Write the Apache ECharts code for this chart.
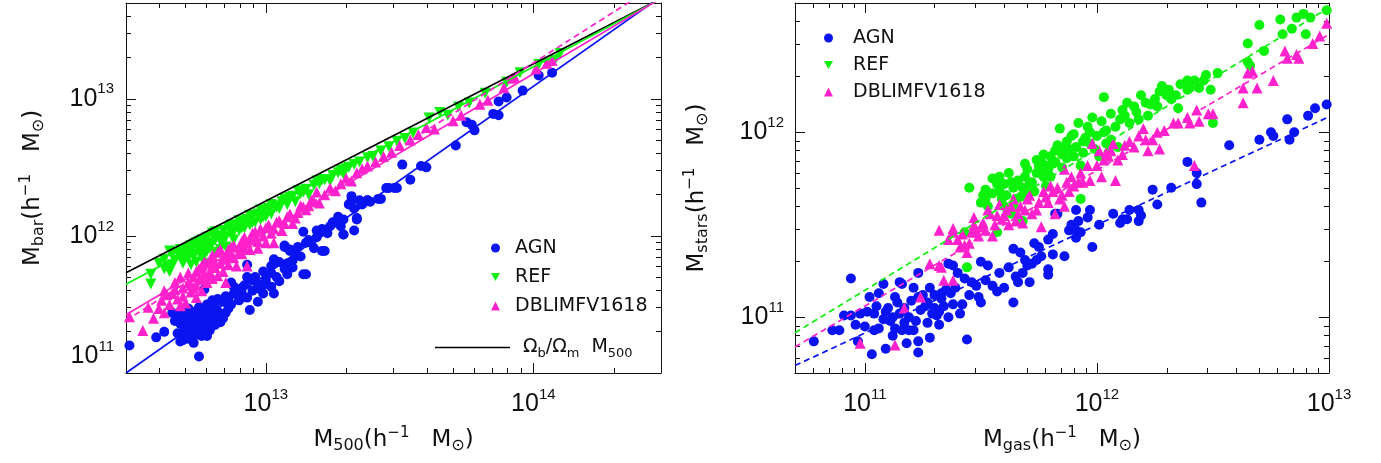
<!DOCTYPE html>
<html>
<head>
<meta charset="utf-8">
<script src="https://cdn.jsdelivr.net/npm/echarts@6/dist/echarts.min.js"></script>
<style>
  html, body { margin: 0; padding: 0; background: #fff; }
  #chart { width: 1381px; height: 463px; }
</style>
</head>
<body>
<div id="chart"></div>
<script>
// All masses are log10(M / h^-1 Msun).

// Left panel: [log M500, log Mbar]
const agnBar = [[12.49,11.20],[12.59,11.26],[12.75,11.12],[12.65,11.44],[12.67,11.43],[12.67,11.29],[12.68,11.23],[12.69,11.24],[12.73,11.22],[12.76,11.27],[12.70,11.36],[12.71,11.39],[12.73,11.42],[12.75,11.46],[12.76,11.40],[12.77,11.44],[12.78,11.37],[12.80,11.41],[12.81,11.35],[12.83,11.37],[12.72,11.33],[12.74,11.30],[12.79,11.31],[12.82,11.45],[12.84,11.40],[12.77,11.61],[12.80,11.53],[12.82,11.54],[12.85,11.56],[12.88,11.63],[12.90,11.53],[12.91,11.62],[12.93,11.79],[12.94,11.68],[12.97,11.65],[12.98,11.61],[12.97,11.52],[12.94,11.46],[13.02,11.63],[13.03,11.58],[13.05,11.67],[13.02,11.73],[13.00,11.68],[13.03,11.83],[13.07,11.92],[13.09,11.89],[13.08,11.80],[13.10,11.82],[13.08,11.72],[13.15,11.72],[13.14,12.03],[13.15,11.95],[13.16,11.97],[13.18,11.91],[13.20,12.02],[13.21,12.05],[13.22,11.89],[13.24,12.07],[13.26,12.10],[13.29,12.12],[13.28,12.07],[13.29,12.01],[13.31,12.23],[13.32,12.26],[13.32,12.29],[13.33,12.20],[13.35,12.26],[13.36,12.23],[13.38,12.26],[13.39,12.25],[13.43,12.27],[13.34,12.12],[13.33,12.04],[13.46,12.35],[13.49,12.35],[13.51,12.52],[13.54,12.41],[13.58,12.51],[13.60,12.50],[13.71,12.66],[13.75,12.83],[13.77,12.81],[13.78,12.77],[13.85,12.89],[13.87,12.88],[13.87,12.98],[13.90,13.01],[13.96,13.06],[14.02,13.17],[14.07,13.19],[12.70,11.33],[12.71,11.47],[12.72,11.38],[12.74,11.34],[12.75,11.48],[12.76,11.42],[12.77,11.36],[12.78,11.50],[12.79,11.44],[12.80,11.37],[12.81,11.48],[12.82,11.41],[12.73,11.27],[12.68,11.36],[12.69,11.41],[12.84,11.52],[12.86,11.47],[12.88,11.58],[12.90,11.55],[12.92,11.64],[12.95,11.60],[12.96,11.70],[12.99,11.74],[13.00,11.65],[13.02,11.78],[13.05,11.81],[13.07,11.76],[13.11,11.88],[13.13,11.85],[13.17,11.95],[13.19,11.99],[13.23,12.02],[13.25,12.10],[13.27,12.14],[13.07,11.93],[13.09,11.90],[13.14,11.72],[13.21,11.89],[13.19,12.04],[13.22,12.04],[13.25,12.09],[13.29,12.01],[13.34,12.13],[13.45,12.35],[13.48,12.35],[13.38,12.26],[13.42,12.27],[12.69,11.30],[12.70,11.44],[12.71,11.29],[12.72,11.45],[12.73,11.36],[12.74,11.40],[12.75,11.33],[12.76,11.35],[12.77,11.31],[12.78,11.42],[12.79,11.38],[12.80,11.46],[12.81,11.42],[12.83,11.43],[12.85,11.44],[12.86,11.53],[12.87,11.50],[12.89,11.60],[12.91,11.58],[12.93,11.55],[12.71,11.25],[12.66,11.38],[12.78,11.27],[12.62,11.30],[12.87,11.66],[12.93,11.70],[12.99,11.58],[13.04,11.70],[13.10,11.77],[13.12,11.92]];
const refBar = [[12.57,11.65],[12.57,11.72],[12.60,11.80],[12.62,11.76],[12.64,11.74],[12.64,11.89],[12.66,11.82],[12.67,11.88],[12.68,11.86],[12.69,11.80],[12.70,11.90],[12.71,11.84],[12.72,11.93],[12.72,11.79],[12.73,11.87],[12.74,11.81],[12.74,11.95],[12.75,11.90],[12.76,11.97],[12.76,11.84],[12.77,11.86],[12.77,11.93],[12.78,11.99],[12.79,11.91],[12.79,11.80],[12.80,12.02],[12.80,11.95],[12.81,11.88],[12.82,12.00],[12.83,11.96],[12.83,11.90],[12.84,12.04],[12.85,11.99],[12.85,11.92],[12.86,12.06],[12.87,12.02],[12.88,11.97],[12.89,12.08],[12.90,12.04],[12.91,12.10],[12.92,12.06],[12.93,12.12],[12.94,12.08],[12.95,12.14],[12.96,12.10],[12.97,12.16],[12.98,12.12],[12.99,12.18],[13.00,12.14],[13.01,12.20],[13.02,12.16],[13.03,12.22],[13.05,12.20],[13.06,12.25],[13.08,12.23],[13.10,12.29],[13.11,12.25],[13.13,12.31],[13.15,12.34],[13.16,12.30],[13.18,12.37],[13.20,12.38],[13.22,12.41],[13.24,12.40],[13.25,12.44],[13.27,12.46],[13.29,12.45],[13.31,12.50],[13.33,12.52],[13.35,12.54],[13.38,12.57],[13.40,12.58],[13.43,12.62],[13.46,12.65],[13.49,12.69],[13.52,12.71],[13.55,12.75],[13.61,12.86],[13.65,12.90],[13.68,12.88],[13.72,12.94],[13.76,12.97],[13.82,13.04],[13.90,13.12],[13.95,13.19],[14.02,13.25],[14.05,13.26],[14.08,13.28],[14.10,13.33],[12.62,11.83],[12.63,11.78],[12.65,11.86],[12.65,11.79],[12.68,11.90],[12.69,11.84],[12.70,11.86],[12.71,11.91],[12.73,11.94],[12.73,11.85],[12.75,11.96],[12.76,11.91],[12.78,11.94],[12.78,11.89],[12.81,12.03],[12.81,11.97],[12.84,11.98],[12.87,12.08],[12.88,12.03],[12.90,12.11],[12.91,12.06],[12.94,12.15],[12.95,12.10],[12.98,12.19],[12.99,12.14],[13.02,12.23],[13.04,12.21],[13.07,12.27],[13.09,12.28],[13.12,12.33],[13.14,12.32],[13.19,12.40],[13.21,12.41],[13.28,12.48],[13.30,12.49]];
const dblBar = [[12.49,11.41],[12.54,11.31],[12.56,11.48],[12.58,11.40],[12.60,11.47],[12.62,11.44],[12.63,11.57],[12.64,11.50],[12.66,11.61],[12.67,11.54],[12.68,11.49],[12.69,11.62],[12.70,11.51],[12.71,11.66],[12.72,11.59],[12.73,11.70],[12.74,11.64],[12.74,11.55],[12.75,11.76],[12.75,11.68],[12.76,11.60],[12.77,11.72],[12.78,11.66],[12.78,11.80],[12.79,11.74],[12.80,11.69],[12.80,11.83],[12.81,11.77],[12.82,11.71],[12.83,11.90],[12.83,11.80],[12.84,11.74],[12.85,11.85],[12.85,11.66],[12.86,11.79],[12.87,11.92],[12.88,11.84],[12.89,11.78],[12.90,11.92],[12.91,11.87],[12.92,11.99],[12.93,11.95],[12.93,11.78],[12.94,11.90],[12.95,12.02],[12.96,11.97],[12.97,11.91],[12.98,12.05],[12.99,12.00],[13.00,11.95],[13.01,12.08],[13.03,11.95],[13.03,12.05],[13.05,12.11],[13.06,12.04],[13.08,12.14],[13.10,12.09],[13.12,12.17],[13.13,12.22],[13.15,12.19],[13.17,12.26],[13.19,12.32],[13.20,12.24],[13.22,12.30],[13.24,12.35],[13.26,12.33],[13.28,12.38],[13.30,12.42],[13.32,12.40],[13.34,12.46],[13.36,12.49],[13.38,12.51],[13.41,12.54],[13.44,12.58],[13.47,12.61],[13.50,12.66],[13.54,12.70],[13.57,12.74],[13.60,12.79],[13.63,12.78],[13.70,12.84],[13.73,12.88],[13.80,12.96],[13.83,12.99],[13.89,13.08],[13.92,13.15],[13.93,13.16],[14.01,13.22],[14.05,13.26],[14.07,13.28],[12.61,11.53],[12.62,11.60],[12.65,11.58],[12.66,11.66],[12.68,11.70],[12.69,11.56],[12.71,11.73],[12.72,11.64],[12.73,11.62],[12.74,11.74],[12.76,11.78],[12.76,11.69],[12.77,11.81],[12.79,11.70],[12.80,11.86],[12.81,11.80],[12.82,11.88],[12.84,11.83],[12.86,11.90],[12.87,11.86],[12.88,11.93],[12.90,11.88],[12.91,11.96],[12.92,11.91],[12.94,11.98],[12.96,12.03],[12.97,11.96],[13.00,12.06],[13.02,12.02],[13.04,12.10],[13.07,12.09],[13.09,12.16],[13.11,12.13],[13.14,12.21],[13.16,12.22],[13.18,12.25]];

// Left panel fits: end points at the edges of the M500 range
const baryonFraction = [[12.477,11.732],[14.477,13.732]];
const agnBarFit = [[12.477,11.000],[14.477,13.746]];
const refBarFit = [[12.477,11.648],[14.477,13.730]];
const dblBarFit = [[12.477,11.425],[14.477,13.733]];
const dblBarFitAlt = [[12.477,11.383],[14.477,13.851]];

// Right panel: [log Mgas, log Mstars]
const agnStars = [[10.78,10.87],[10.86,10.93],[10.91,11.01],[10.94,11.01],[10.89,10.93],[10.94,11.21],[10.96,10.96],[10.98,11.02],[10.97,10.87],[11.03,10.80],[11.01,11.03],[11.04,11.02],[11.02,11.11],[11.06,11.13],[11.04,10.93],[11.06,10.94],[11.08,11.18],[11.09,11.03],[11.08,10.99],[11.09,10.83],[11.13,11.11],[11.12,10.90],[11.15,11.19],[11.16,11.18],[11.11,10.98],[11.13,10.94],[11.15,11.02],[11.16,10.93],[11.17,10.97],[11.18,10.86],[11.19,10.93],[11.21,11.16],[11.21,10.93],[11.23,11.24],[11.23,11.11],[11.23,10.87],[11.23,10.81],[11.24,11.04],[11.26,11.06],[11.27,11.08],[11.28,10.89],[11.28,11.16],[11.30,11.12],[11.31,11.01],[11.32,10.96],[11.29,11.02],[11.32,11.03],[11.34,11.06],[11.33,11.13],[11.35,11.15],[11.37,11.13],[11.38,11.07],[11.36,11.29],[11.38,11.28],[11.40,11.24],[11.43,11.21],[11.41,11.02],[11.42,11.07],[11.44,10.88],[11.46,11.19],[11.48,11.17],[11.49,11.11],[11.50,11.08],[11.50,11.30],[11.53,11.28],[11.55,11.17],[11.57,11.14],[11.60,11.16],[11.64,11.08],[11.65,11.22],[11.66,11.19],[11.71,11.19],[11.64,11.37],[11.67,11.35],[11.69,11.31],[11.70,11.28],[11.72,11.29],[11.74,11.31],[11.76,11.33],[11.73,11.40],[11.75,11.38],[11.79,11.42],[11.81,11.34],[11.81,11.45],[11.79,11.26],[11.79,11.23],[11.82,11.56],[11.83,11.56],[11.86,11.33],[11.88,11.47],[11.89,11.50],[11.91,11.47],[11.92,11.52],[11.91,11.43],[11.93,11.46],[11.91,11.58],[11.97,11.58],[11.96,11.54],[11.98,11.38],[12.01,11.50],[12.07,11.56],[12.10,11.51],[12.11,11.53],[12.13,11.53],[12.14,11.58],[12.18,11.58],[12.18,11.52],[12.19,11.55],[12.24,11.69],[12.26,11.61],[12.32,11.70],[12.39,11.84],[12.43,11.78],[12.43,11.72],[12.45,11.62],[12.57,11.93],[12.70,11.96],[12.75,12.00],[12.76,11.98],[12.82,12.07],[12.83,11.96],[12.85,12.00],[12.91,12.09],[12.94,12.13],[12.99,12.15],[11.00,10.95],[11.05,11.06],[11.10,11.05],[11.12,11.00],[11.14,11.08],[11.17,11.05],[11.19,11.00],[11.20,11.09],[11.22,10.98],[11.25,11.12],[11.27,10.97],[11.30,11.05],[11.33,11.10],[11.36,11.00],[11.39,11.16],[11.45,11.12],[11.52,11.20],[11.58,11.24],[11.62,11.27],[11.68,11.24]];
const refStars = [[11.43,11.46],[11.44,11.27],[11.45,11.70],[11.52,11.69],[11.52,11.64],[11.50,11.62],[11.51,11.66],[11.55,11.67],[11.57,11.72],[11.58,11.76],[11.59,11.64],[11.60,11.60],[11.57,11.46],[11.63,11.73],[11.63,11.56],[11.64,11.60],[11.65,11.64],[11.68,11.70],[11.68,11.52],[11.69,11.76],[11.69,11.83],[11.70,11.67],[11.72,11.73],[11.74,11.78],[11.75,11.82],[11.76,11.84],[11.77,11.76],[11.78,11.71],[11.79,11.80],[11.80,11.87],[11.81,11.83],[11.82,11.90],[11.84,12.02],[11.85,11.81],[11.86,11.92],[11.87,11.86],[11.89,11.98],[11.90,11.87],[11.91,11.92],[11.93,11.82],[11.93,11.64],[11.94,11.89],[11.95,11.97],[11.96,12.03],[11.97,11.94],[11.99,11.91],[12.01,11.87],[12.03,12.00],[12.03,12.19],[12.04,12.01],[12.04,11.94],[12.05,11.89],[12.06,11.96],[12.08,12.03],[12.09,11.92],[12.11,12.12],[12.12,12.09],[12.14,12.05],[12.16,12.14],[12.17,12.11],[12.18,12.07],[12.21,12.16],[12.22,12.09],[12.25,12.18],[12.26,12.14],[12.27,12.22],[12.30,12.20],[12.32,12.18],[12.34,12.20],[12.35,12.13],[12.39,12.23],[12.39,12.28],[12.40,12.24],[12.44,12.24],[12.46,12.28],[12.47,12.31],[12.49,12.23],[12.50,12.05],[12.52,12.32],[12.65,12.48],[12.65,12.38],[12.66,12.36],[12.70,12.58],[12.72,12.44],[12.79,12.61],[12.80,12.53],[12.84,12.56],[12.86,12.62],[12.89,12.64],[12.90,12.53],[12.92,12.62],[12.99,12.66],[11.53,11.60],[11.55,11.75],[11.58,11.68],[11.60,11.72],[11.61,11.66],[11.62,11.78],[11.64,11.70],[11.66,11.74],[11.67,11.65],[11.70,11.80],[11.71,11.72],[11.73,11.68],[11.74,11.85],[11.76,11.78],[11.77,11.88],[11.78,11.82],[11.80,11.76],[11.82,11.84],[11.83,11.93],[11.85,11.88],[11.87,11.95],[11.88,11.91],[11.90,11.99],[11.92,12.05],[11.94,11.95],[11.97,12.00],[11.98,12.08],[12.00,11.98],[12.02,12.06],[12.06,12.10],[12.10,12.07],[12.13,12.16],[12.19,12.20],[12.23,12.15],[12.28,12.25],[12.31,12.23],[12.36,12.26],[12.42,12.28]];
const dblStars = [[10.98,10.86],[11.13,10.85],[11.17,11.05],[11.24,11.11],[11.28,11.29],[11.32,11.28],[11.33,11.27],[11.34,11.20],[11.38,11.20],[11.32,11.47],[11.38,11.48],[11.38,11.46],[11.40,11.42],[11.41,11.38],[11.43,11.39],[11.44,11.35],[11.46,11.46],[11.48,11.47],[11.49,11.44],[11.50,11.49],[11.47,11.54],[11.51,11.51],[11.54,11.56],[11.55,11.44],[11.57,11.55],[11.59,11.53],[11.61,11.58],[11.62,11.50],[11.64,11.64],[11.66,11.56],[11.67,11.60],[11.68,11.51],[11.70,11.64],[11.72,11.56],[11.75,11.62],[11.76,11.49],[11.78,11.65],[11.80,11.71],[11.81,11.68],[11.82,11.56],[11.84,11.64],[11.86,11.60],[11.86,11.80],[11.87,11.73],[11.88,11.68],[11.90,11.71],[11.92,11.73],[11.94,11.73],[11.96,11.82],[11.98,11.94],[12.00,11.82],[12.02,11.76],[12.03,11.85],[12.04,11.89],[12.05,11.87],[12.07,11.94],[12.08,11.74],[12.09,11.85],[12.11,11.88],[12.14,11.95],[12.16,11.92],[12.18,11.98],[12.21,11.96],[12.22,11.90],[12.24,11.96],[12.26,12.00],[12.27,11.91],[12.29,12.01],[12.33,12.05],[12.35,12.05],[12.39,12.08],[12.40,12.05],[12.43,12.12],[12.44,12.06],[12.48,12.10],[12.50,12.10],[12.42,11.82],[12.63,12.24],[12.65,12.32],[12.67,12.33],[12.69,12.24],[12.63,12.16],[12.76,12.28],[12.81,12.44],[12.82,12.40],[12.86,12.42],[12.87,12.40],[12.93,12.48],[12.96,12.52],[12.99,12.59],[11.36,11.42],[11.42,11.45],[11.45,11.40],[11.47,11.50],[11.52,11.47],[11.53,11.58],[11.56,11.50],[11.58,11.61],[11.60,11.55],[11.63,11.60],[11.65,11.52],[11.69,11.58],[11.71,11.66],[11.74,11.58],[11.77,11.68],[11.79,11.62],[11.83,11.70],[11.85,11.66],[11.89,11.76],[11.93,11.78],[11.97,11.74],[12.01,11.90],[12.06,11.90],[12.12,11.93],[12.20,12.02]];

// Right panel fits
const agnStarsFit = [[10.699,10.739],[13.0,12.084]];
const refStarsFit = [[10.699,10.916],[13.0,12.674]];
const dblStarsFit = [[10.699,10.840],[13.0,12.529]];

// Axis ranges and ticks (masses in h^-1 Msun)
const leftXRange = [3e12, 3e14];
const leftYRange = [1e11, 5e13];
const rightXRange = [5e10, 1e13];
const rightYRange = [5e10, 5e12];
const leftXLabels = [1e13, 1e14];
const leftYLabels = [1e12, 1e13];
const leftYBottomLabel = [1e11];
const rightXLabels = [1e11, 1e12, 1e13];
const rightYLabels = [1e11, 1e12];
const leftXMinor = [4e12,5e12,6e12,7e12,8e12,9e12,2e13,3e13,4e13,5e13,6e13,7e13,8e13,9e13,2e14];
const leftYMinor = [2e11,3e11,4e11,5e11,6e11,7e11,8e11,9e11,2e12,3e12,4e12,5e12,6e12,7e12,8e12,9e12,2e13,3e13,4e13];
const rightXMinor = [6e10,7e10,8e10,9e10,2e11,3e11,4e11,5e11,6e11,7e11,8e11,9e11,2e12,3e12,4e12,5e12,6e12,7e12,8e12,9e12];
const rightYMinor = [6e10,7e10,8e10,9e10,2e11,3e11,4e11,5e11,6e11,7e11,8e11,9e11,2e12,3e12,4e12];

const BLUE = '#0a14f0';
const GREEN = '#0cf20c';
const PINK = '#ff22cc';
const INK = '#111';
const TICK_FONT = 'Liberation Sans';
const TEXT_FONT = 'DejaVu Sans';
const DOWN_TRIANGLE = 'path://M0,0L10,0L5,9Z';

const lg = a => a.map(v => Math.log10(v));

const tickRich = {
  b: { fontSize: 25, lineHeight: 34, fontFamily: TICK_FONT, color: INK },
  s: { fontSize: 15, lineHeight: 15, verticalAlign: 'top', fontFamily: TICK_FONT, color: INK }
};
const powLabel = v => '{b|10}{s|' + Math.round(v) + '}';

const titleRich = {
  b: { fontSize: 23, lineHeight: 28, fontFamily: TEXT_FONT, color: INK },
  sub: { fontSize: 16, lineHeight: 15, verticalAlign: 'bottom', fontFamily: TEXT_FONT, color: INK },
  sup: { fontSize: 15, lineHeight: 15, verticalAlign: 'top', fontFamily: TEXT_FONT, color: INK }
};
const massTitle = sub => '{b|M}{sub|' + sub + '}{b|(h}{sup|−1}{b|   M}{sub|⊙}{b|)}';

// One frame side: a major-tick axis and a minor-tick axis sharing the same range
function side(grid, range, position, majors, minors, labelCfg) {
  const base = {
    type: 'value', gridIndex: grid, min: range[0], max: range[1], position: position,
    splitLine: { show: false }, axisPointer: { show: false }, silent: true
  };
  const major = Object.assign({}, base, {
    axisLine: { show: true, onZero: false, lineStyle: { color: INK, width: 1 } },
    axisTick: { show: true, inside: true, length: 10, customValues: majors, lineStyle: { color: INK, width: 1 } },
    axisLabel: { show: false }
  }, labelCfg || {});
  const minor = Object.assign({}, base, {
    axisLine: { show: false, onZero: false },
    axisTick: { show: true, inside: true, length: 5, customValues: minors, lineStyle: { color: INK, width: 1 } },
    axisLabel: { show: false }
  });
  return [major, minor];
}

const LX = lg(leftXRange), LY = lg(leftYRange), RX = lg(rightXRange), RY = lg(rightYRange);

const xAxes = [].concat(
  side(0, LX, 'bottom', lg(leftXLabels), lg(leftXMinor), {
    axisLabel: { show: true, customValues: lg(leftXLabels), formatter: powLabel, rich: tickRich, margin: 14, showMinLabel: true, showMaxLabel: true },
    name: massTitle('500'), nameLocation: 'middle', nameGap: 53, nameTextStyle: { rich: titleRich }
  }),
  side(0, LX, 'top', lg(leftXLabels), lg(leftXMinor)),
  side(1, RX, 'bottom', lg(rightXLabels), lg(rightXMinor), {
    axisLabel: { show: true, customValues: lg(rightXLabels), formatter: powLabel, rich: tickRich, margin: 14, showMinLabel: true, showMaxLabel: true },
    name: massTitle('gas'), nameLocation: 'middle', nameGap: 53, nameTextStyle: { rich: titleRich }
  }),
  side(1, RX, 'top', lg(rightXLabels), lg(rightXMinor))
);

const yAxes = [].concat(
  side(0, LY, 'left', lg(leftYLabels), lg(leftYMinor), {
    axisLabel: { show: true, customValues: lg(leftYLabels), formatter: powLabel, rich: tickRich, margin: 12, showMinLabel: true, showMaxLabel: true },
    name: massTitle('bar'), nameLocation: 'middle', nameGap: 79, nameTextStyle: { rich: titleRich }
  }),
  side(0, LY, 'right', lg(leftYLabels), lg(leftYMinor)),
  [{
    type: 'value', gridIndex: 0, min: LY[0], max: LY[1], position: 'left', silent: true,
    splitLine: { show: false }, axisLine: { show: false, onZero: false }, axisTick: { show: false },
    axisLabel: { show: true, customValues: lg(leftYBottomLabel), formatter: powLabel, rich: tickRich, margin: 12, verticalAlign: 'bottom', showMinLabel: true }
  }],
  side(1, RY, 'left', lg(rightYLabels), lg(rightYMinor), {
    axisLabel: { show: true, customValues: lg(rightYLabels), formatter: powLabel, rich: tickRich, margin: 11, showMinLabel: true, showMaxLabel: true },
    name: massTitle('stars'), nameLocation: 'middle', nameGap: 84, nameTextStyle: { rich: titleRich }
  }),
  side(1, RY, 'right', lg(rightYLabels), lg(rightYMinor))
);

function points(name, data, grid, symbol, color, size, rotate) {
  return {
    type: 'scatter', name: name, data: data,
    xAxisIndex: grid === 0 ? 0 : 4, yAxisIndex: grid === 0 ? 0 : 5,
    symbol: symbol, symbolSize: size, symbolRotate: rotate || 0, symbolKeepAspect: true,
    itemStyle: { color: color, opacity: 1 }, silent: true, z: 2
  };
}
function fit(name, data, grid, color, dashed) {
  return {
    type: 'line', name: name, data: data,
    xAxisIndex: grid === 0 ? 0 : 4, yAxisIndex: grid === 0 ? 0 : 5,
    symbol: 'none', clip: true, silent: true, z: 3,
    itemStyle: { color: color },
    lineStyle: { color: color, width: 1.7, type: dashed ? [6, 4] : 'solid' }
  };
}

const OMEGA = 'Ωb/Ωm M500';
const legendText = { fontSize: 19, lineHeight: 20, fontFamily: TEXT_FONT, color: INK };
const legendItems = [
  { name: 'AGN', icon: 'circle' },
  { name: 'REF', icon: DOWN_TRIANGLE },
  { name: 'DBLIMFV1618', icon: 'triangle' }
];

const option = {
  animation: false,
  backgroundColor: '#fff',
  grid: [
    { left: 126, top: 3, width: 535, height: 370, containLabel: false },
    { left: 795, top: 3, width: 534, height: 370, containLabel: false }
  ],
  xAxis: xAxes,
  yAxis: yAxes,
  legend: [
    {
      data: legendItems, orient: 'vertical', left: 486, top: 233,
      itemWidth: 9, itemHeight: 9, itemGap: 9, selectedMode: false, symbolRotate: 0,
      textStyle: Object.assign({ padding: [0, 0, 0, 10] }, legendText)
    },
    {
      data: [OMEGA], left: 430, top: 333, icon: 'rect', itemWidth: 75, itemHeight: 1.6, selectedMode: false,
      formatter: () => '{t|Ω}{s|b}{t|/Ω}{s|m}{t|  M}{s|500}',
      textStyle: {
        padding: [0, 0, 0, 8],
        rich: {
          t: { fontSize: 19, lineHeight: 26, fontFamily: TEXT_FONT, color: INK },
          s: { fontSize: 13, lineHeight: 12, verticalAlign: 'bottom', fontFamily: TEXT_FONT, color: INK }
        }
      }
    },
    {
      data: legendItems, orient: 'vertical', left: 819, top: 23,
      itemWidth: 9, itemHeight: 9, itemGap: 7, selectedMode: false, symbolRotate: 0,
      textStyle: Object.assign({ padding: [0, 0, 0, 15] }, legendText)
    }
  ],
  series: [
    points('AGN', agnBar, 0, 'circle', BLUE, 10),
    points('REF', refBar, 0, 'triangle', GREEN, 11, 180),
    points('DBLIMFV1618', dblBar, 0, 'triangle', PINK, 11),
    fit(OMEGA, baryonFraction, 0, '#000', false),
    fit('AGN fit', agnBarFit, 0, BLUE, false),
    fit('REF fit', refBarFit, 0, GREEN, false),
    fit('DBLIMFV1618 fit', dblBarFit, 0, PINK, false),
    fit('DBLIMFV1618 alt fit', dblBarFitAlt, 0, PINK, true),
    points('AGN', agnStars, 1, 'circle', BLUE, 10),
    points('REF', refStars, 1, 'circle', GREEN, 10),
    points('DBLIMFV1618', dblStars, 1, 'triangle', PINK, 11),
    fit('AGN stars fit', agnStarsFit, 1, BLUE, true),
    fit('REF stars fit', refStarsFit, 1, GREEN, true),
    fit('DBLIMFV1618 stars fit', dblStarsFit, 1, PINK, true)
  ]
};

const chart = echarts.init(document.getElementById('chart'), null, { renderer: 'canvas' });
chart.setOption(option);
</script>
</body>
</html>
